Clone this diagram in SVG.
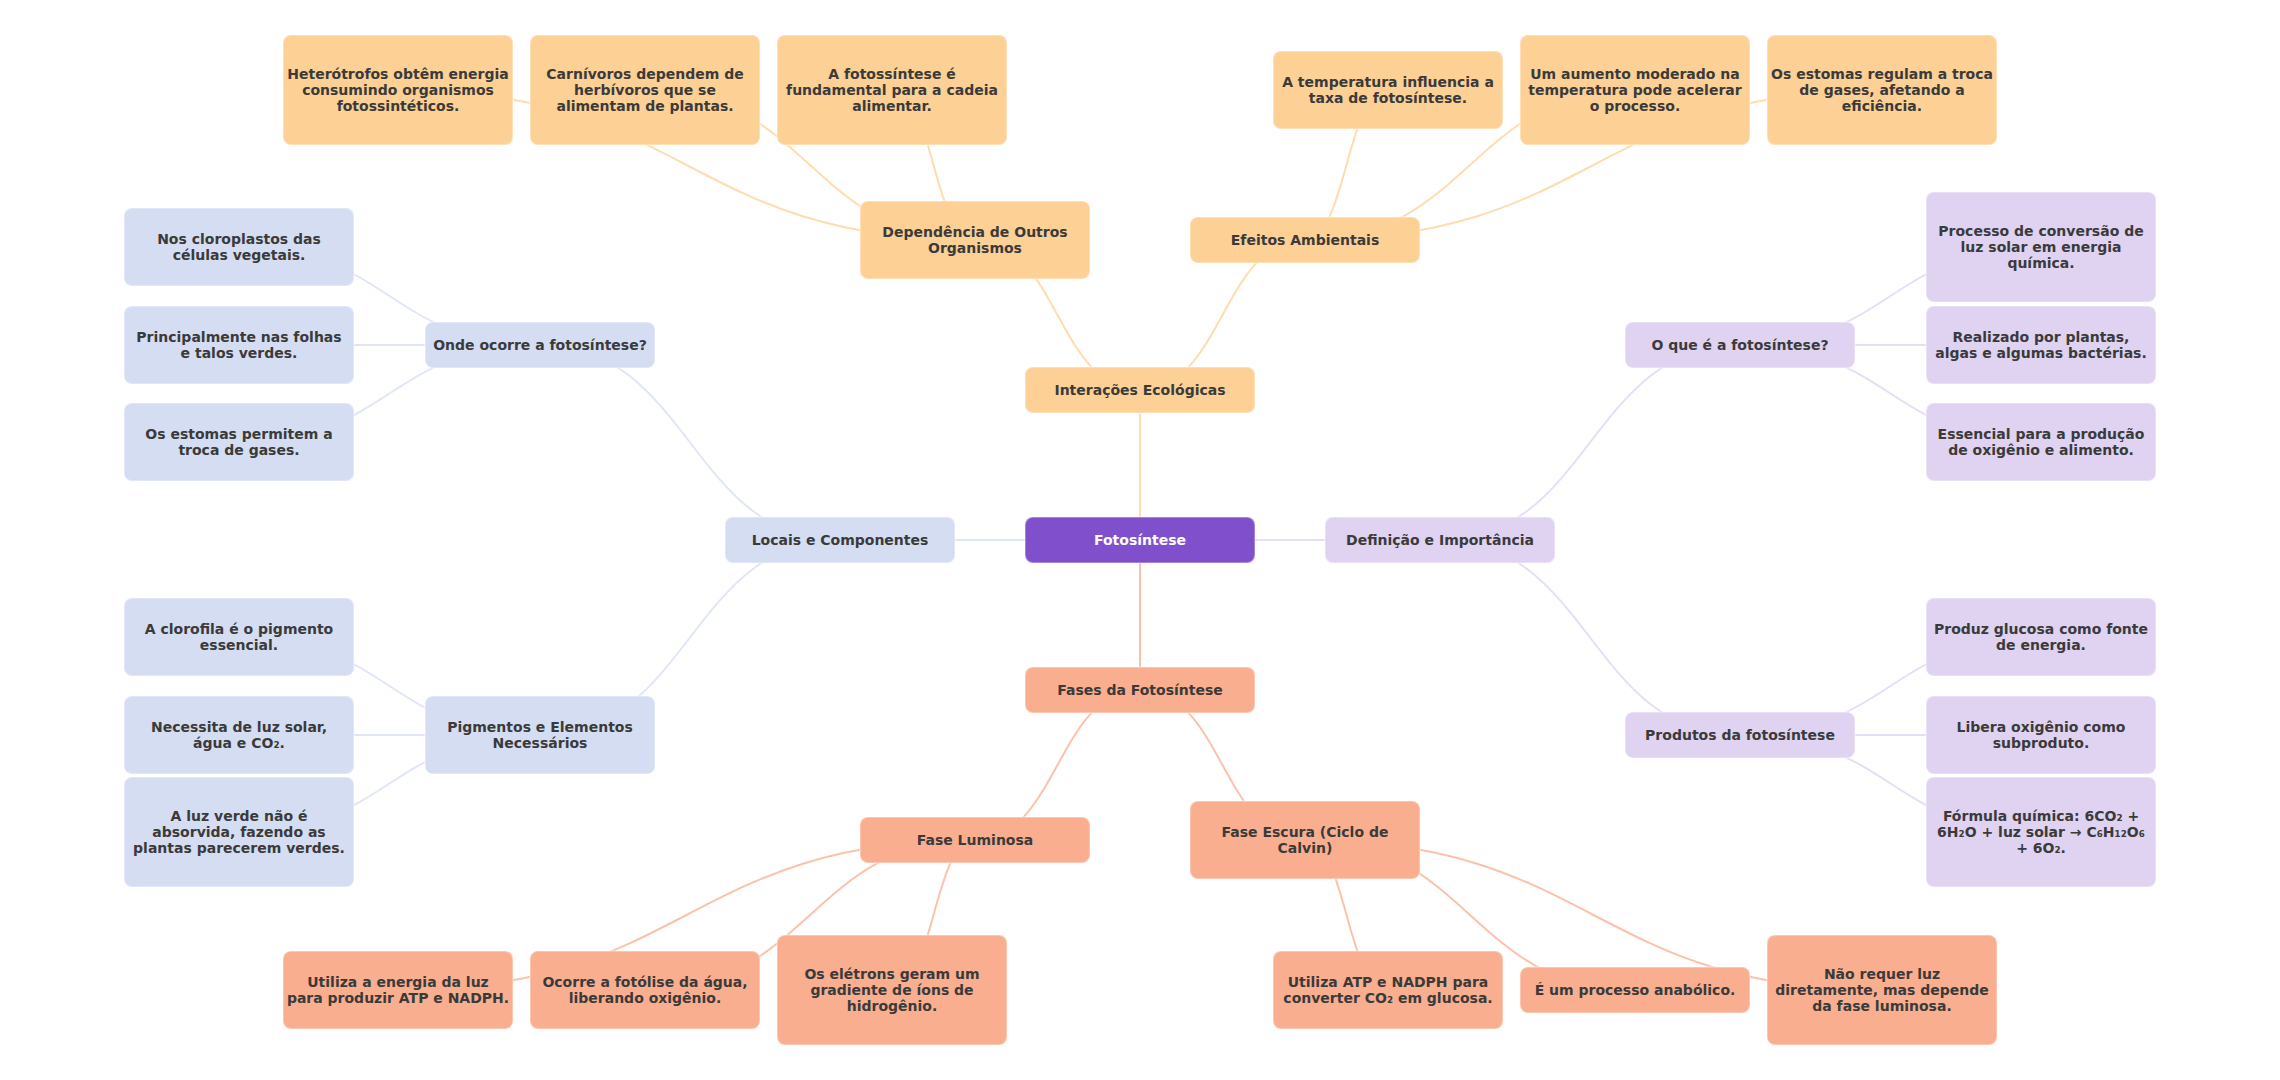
<svg xmlns="http://www.w3.org/2000/svg" width="2280" height="1080" viewBox="0 0 2280 1080">
<style>
.t{font-family:"DejaVu Sans",Verdana,sans-serif;font-weight:bold;font-size:14px;fill:#3a3a3a;text-anchor:middle}
.w{fill:#ffffff}
.n rect{stroke:#ffffff;stroke-opacity:.3;stroke-width:2}
.c rect{fill:#8050CC}
.o rect{fill:#FDD095}
.s rect{fill:#F9AE8F}
.b rect{fill:#D5DDF2}
.l rect{fill:#DFD3F1}
.e path{fill:none;stroke-width:2;stroke-opacity:.75}
.eo path{stroke:#FDD095}
.es path{stroke:#F9AE8F}
.eb path{stroke:#D5DDF2}
.el path{stroke:#DFD3F1}
</style>
<rect width="2280" height="1080" fill="#ffffff"/>
<g id="connectors" class="e">
<g class="eb">
<path d="M1140 540 L840 540"/>
<path d="M840 540 C690 540 690 345 540 345"/>
<path d="M840 540 C690 540 690 735 540 735"/>
<path d="M540 345 C389.5 345 389.5 247 239 247"/>
<path d="M540 345 L239 345"/>
<path d="M540 345 C389.5 345 389.5 442 239 442"/>
<path d="M540 735 C389.5 735 389.5 637 239 637"/>
<path d="M540 735 L239 735"/>
<path d="M540 735 C389.5 735 389.5 832 239 832"/>
</g>
<g class="el">
<path d="M1140 540 L1440 540"/>
<path d="M1440 540 C1590 540 1590 345 1740 345"/>
<path d="M1440 540 C1590 540 1590 735 1740 735"/>
<path d="M1740 345 C1890.5 345 1890.5 247 2041 247"/>
<path d="M1740 345 L2041 345"/>
<path d="M1740 345 C1890.5 345 1890.5 442 2041 442"/>
<path d="M1740 735 C1890.5 735 1890.5 637 2041 637"/>
<path d="M1740 735 L2041 735"/>
<path d="M1740 735 C1890.5 735 1890.5 832 2041 832"/>
</g>
<g class="eo">
<path d="M1140 540 L1140 390"/>
<path d="M1140 390 C1057.5 390 1057.5 240 975 240"/>
<path d="M1140 390 C1222.5 390 1222.5 240 1305 240"/>
<path d="M975 240 C686.5 240 686.5 90 398 90"/>
<path d="M975 240 C810 240 810 90 645 90"/>
<path d="M975 240 C933.5 240 933.5 90 892 90"/>
<path d="M1305 240 C1346.5 240 1346.5 90 1388 90"/>
<path d="M1305 240 C1470 240 1470 90 1635 90"/>
<path d="M1305 240 C1593.5 240 1593.5 90 1882 90"/>
</g>
<g class="es">
<path d="M1140 540 L1140 690"/>
<path d="M1140 690 C1057.5 690 1057.5 840 975 840"/>
<path d="M1140 690 C1222.5 690 1222.5 840 1305 840"/>
<path d="M975 840 C686.5 840 686.5 990 398 990"/>
<path d="M975 840 C810 840 810 990 645 990"/>
<path d="M975 840 C933.5 840 933.5 990 892 990"/>
<path d="M1305 840 C1346.5 840 1346.5 990 1388 990"/>
<path d="M1305 840 C1470 840 1470 990 1635 990"/>
<path d="M1305 840 C1593.5 840 1593.5 990 1882 990"/>
</g>
</g>

<g id="n-center" class="n c"><rect x="1025" y="517" width="230" height="46" rx="8"/><text class="t w" x="1140" y="545">Fotosíntese</text></g>
<g id="n-interacoes" class="n o"><rect x="1025" y="367" width="230" height="46" rx="8"/><text class="t" x="1140" y="395">Interações Ecológicas</text></g>
<g id="n-fases" class="n s"><rect x="1025" y="667" width="230" height="46" rx="8"/><text class="t" x="1140" y="695">Fases da Fotosíntese</text></g>
<g id="n-locais" class="n b"><rect x="725" y="517" width="230" height="46" rx="8"/><text class="t" x="840" y="545">Locais e Componentes</text></g>
<g id="n-definicao" class="n l"><rect x="1325" y="517" width="230" height="46" rx="8"/><text class="t" x="1440" y="545">Definição e Importância</text></g>

<g id="n-dependencia" class="n o"><rect x="860" y="201" width="230" height="78" rx="8"/><text class="t" x="975" y="237">Dependência de Outros<tspan x="975" dy="16">Organismos</tspan></text></g>
<g id="n-efeitos" class="n o"><rect x="1190" y="217" width="230" height="46" rx="8"/><text class="t" x="1305" y="245">Efeitos Ambientais</text></g>
<g id="n-onde" class="n b"><rect x="425" y="322" width="230" height="46" rx="8"/><text class="t" x="540" y="350">Onde ocorre a fotosíntese?</text></g>
<g id="n-pigmentos" class="n b"><rect x="425" y="696" width="230" height="78" rx="8"/><text class="t" x="540" y="732">Pigmentos e Elementos<tspan x="540" dy="16">Necessários</tspan></text></g>
<g id="n-oque" class="n l"><rect x="1625" y="322" width="230" height="46" rx="8"/><text class="t" x="1740" y="350">O que é a fotosíntese?</text></g>
<g id="n-produtos" class="n l"><rect x="1625" y="712" width="230" height="46" rx="8"/><text class="t" x="1740" y="740">Produtos da fotosíntese</text></g>
<g id="n-faselum" class="n s"><rect x="860" y="817" width="230" height="46" rx="8"/><text class="t" x="975" y="845">Fase Luminosa</text></g>
<g id="n-faseesc" class="n s"><rect x="1190" y="801" width="230" height="78" rx="8"/><text class="t" x="1305" y="837">Fase Escura (Ciclo de<tspan x="1305" dy="16">Calvin)</tspan></text></g>

<g id="n-hetero" class="n o"><rect x="283" y="35" width="230" height="110" rx="8"/><text class="t" x="398" y="79">Heterótrofos obtêm energia<tspan x="398" dy="16">consumindo organismos</tspan><tspan x="398" dy="16">fotossintéticos.</tspan></text></g>
<g id="n-carni" class="n o"><rect x="530" y="35" width="230" height="110" rx="8"/><text class="t" x="645" y="79">Carnívoros dependem de<tspan x="645" dy="16">herbívoros que se</tspan><tspan x="645" dy="16">alimentam de plantas.</tspan></text></g>
<g id="n-fundamental" class="n o"><rect x="777" y="35" width="230" height="110" rx="8"/><text class="t" x="892" y="79">A fotossíntese é<tspan x="892" dy="16">fundamental para a cadeia</tspan><tspan x="892" dy="16">alimentar.</tspan></text></g>
<g id="n-temperatura" class="n o"><rect x="1273" y="51" width="230" height="78" rx="8"/><text class="t" x="1388" y="87">A temperatura influencia a<tspan x="1388" dy="16">taxa de fotosíntese.</tspan></text></g>
<g id="n-aumento" class="n o"><rect x="1520" y="35" width="230" height="110" rx="8"/><text class="t" x="1635" y="79">Um aumento moderado na<tspan x="1635" dy="16">temperatura pode acelerar</tspan><tspan x="1635" dy="16">o processo.</tspan></text></g>
<g id="n-estomas-reg" class="n o"><rect x="1767" y="35" width="230" height="110" rx="8"/><text class="t" x="1882" y="79">Os estomas regulam a troca<tspan x="1882" dy="16">de gases, afetando a</tspan><tspan x="1882" dy="16">eficiência.</tspan></text></g>

<g id="n-cloroplastos" class="n b"><rect x="124" y="208" width="230" height="78" rx="8"/><text class="t" x="239" y="244">Nos cloroplastos das<tspan x="239" dy="16">células vegetais.</tspan></text></g>
<g id="n-folhas" class="n b"><rect x="124" y="306" width="230" height="78" rx="8"/><text class="t" x="239" y="342">Principalmente nas folhas<tspan x="239" dy="16">e talos verdes.</tspan></text></g>
<g id="n-estomas-perm" class="n b"><rect x="124" y="403" width="230" height="78" rx="8"/><text class="t" x="239" y="439">Os estomas permitem a<tspan x="239" dy="16">troca de gases.</tspan></text></g>
<g id="n-clorofila" class="n b"><rect x="124" y="598" width="230" height="78" rx="8"/><text class="t" x="239" y="634">A clorofila é o pigmento<tspan x="239" dy="16">essencial.</tspan></text></g>
<g id="n-necessita" class="n b"><rect x="124" y="696" width="230" height="78" rx="8"/><text class="t" x="239" y="732">Necessita de luz solar,<tspan x="239" dy="16">água e CO₂.</tspan></text></g>
<g id="n-luzverde" class="n b"><rect x="124" y="777" width="230" height="110" rx="8"/><text class="t" x="239" y="821">A luz verde não é<tspan x="239" dy="16">absorvida, fazendo as</tspan><tspan x="239" dy="16">plantas parecerem verdes.</tspan></text></g>

<g id="n-processo" class="n l"><rect x="1926" y="192" width="230" height="110" rx="8"/><text class="t" x="2041" y="236">Processo de conversão de<tspan x="2041" dy="16">luz solar em energia</tspan><tspan x="2041" dy="16">química.</tspan></text></g>
<g id="n-realizado" class="n l"><rect x="1926" y="306" width="230" height="78" rx="8"/><text class="t" x="2041" y="342">Realizado por plantas,<tspan x="2041" dy="16">algas e algumas bactérias.</tspan></text></g>
<g id="n-essencial" class="n l"><rect x="1926" y="403" width="230" height="78" rx="8"/><text class="t" x="2041" y="439">Essencial para a produção<tspan x="2041" dy="16">de oxigênio e alimento.</tspan></text></g>
<g id="n-glucosa" class="n l"><rect x="1926" y="598" width="230" height="78" rx="8"/><text class="t" x="2041" y="634">Produz glucosa como fonte<tspan x="2041" dy="16">de energia.</tspan></text></g>
<g id="n-libera" class="n l"><rect x="1926" y="696" width="230" height="78" rx="8"/><text class="t" x="2041" y="732">Libera oxigênio como<tspan x="2041" dy="16">subproduto.</tspan></text></g>
<g id="n-formula" class="n l"><rect x="1926" y="777" width="230" height="110" rx="8"/><text class="t" x="2041" y="821">Fórmula química: 6CO₂ +<tspan x="2041" dy="16">6H₂O + luz solar → C₆H₁₂O₆</tspan><tspan x="2041" dy="16">+ 6O₂.</tspan></text></g>

<g id="n-energia-luz" class="n s"><rect x="283" y="951" width="230" height="78" rx="8"/><text class="t" x="398" y="987">Utiliza a energia da luz<tspan x="398" dy="16">para produzir ATP e NADPH.</tspan></text></g>
<g id="n-fotolise" class="n s"><rect x="530" y="951" width="230" height="78" rx="8"/><text class="t" x="645" y="987">Ocorre a fotólise da água,<tspan x="645" dy="16">liberando oxigênio.</tspan></text></g>
<g id="n-eletrons" class="n s"><rect x="777" y="935" width="230" height="110" rx="8"/><text class="t" x="892" y="979">Os elétrons geram um<tspan x="892" dy="16">gradiente de íons de</tspan><tspan x="892" dy="16">hidrogênio.</tspan></text></g>
<g id="n-atp" class="n s"><rect x="1273" y="951" width="230" height="78" rx="8"/><text class="t" x="1388" y="987">Utiliza ATP e NADPH para<tspan x="1388" dy="16">converter CO₂ em glucosa.</tspan></text></g>
<g id="n-anabolico" class="n s"><rect x="1520" y="967" width="230" height="46" rx="8"/><text class="t" x="1635" y="995">É um processo anabólico.</text></g>
<g id="n-naoluz" class="n s"><rect x="1767" y="935" width="230" height="110" rx="8"/><text class="t" x="1882" y="979">Não requer luz<tspan x="1882" dy="16">diretamente, mas depende</tspan><tspan x="1882" dy="16">da fase luminosa.</tspan></text></g>
</svg>
